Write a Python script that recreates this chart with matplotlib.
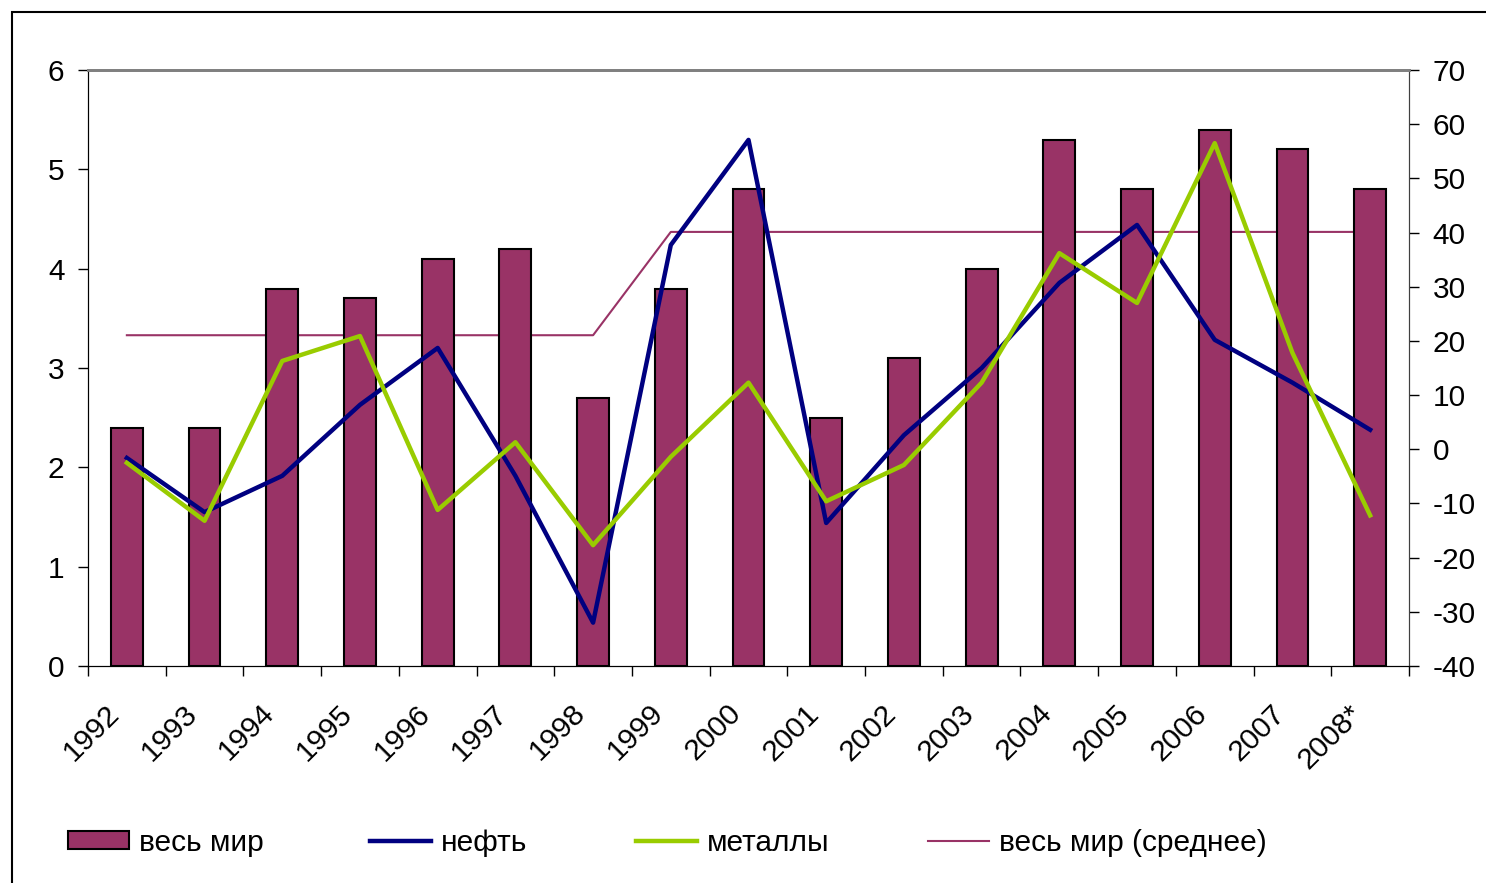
import matplotlib
matplotlib.use("Agg")
import matplotlib.pyplot as plt
import numpy as np
from matplotlib.patches import Rectangle
from matplotlib.transforms import ScaledTranslation

plt.rcParams['font.family'] = ['Liberation Sans', 'DejaVu Sans']
plt.rcParams['axes.unicode_minus'] = False

years = ["1992", "1993", "1994", "1995", "1996", "1997", "1998", "1999", "2000",
         "2001", "2002", "2003", "2004", "2005", "2006", "2007", "2008*"]
world = [2.4, 2.4, 3.8, 3.7, 4.1, 4.2, 2.7, 3.8, 4.8, 2.5, 3.1, 4.0, 5.3, 4.8, 5.4, 5.2, 4.8]
oil = [-1.6, -11.6, -4.9, 8.2, 18.7, -4.9, -32.0, 37.7, 57.1, -13.6, 2.6, 15.0, 30.7,
       41.4, 20.2, 12.3, 3.6]
metals = [-2.5, -13.2, 16.3, 20.9, -11.2, 1.3, -17.7, -1.4, 12.3, -9.6, -2.9, 12.3,
          36.2, 27.0, 56.5, 17.8, -12.2]
# averages of "world" for 1992-1998 and 1999-2008
world_avg = [3.33] * 7 + [4.37] * 10

bar_col = "#993366"
oil_col = "#000080"
met_col = "#99CC00"
fs = 21.5

W, H = 1486, 883
fig = plt.figure(figsize=(W / 100, H / 100), dpi=100)
ax = fig.add_axes([88 / W, 1 - 666 / H, (1409 - 88) / W, (666 - 70) / H])
ax2 = ax.twinx()

x = np.arange(len(years))

ax.plot(x, world_avg, color=bar_col, lw=1.5, zorder=1, label="весь мир (среднее)")
ax.bar(x, world, width=0.41, color=bar_col, edgecolor="black", linewidth=1.5, zorder=2,
       label="весь мир")
ax.set_ylim(0, 6)
ax.set_xlim(-0.5, len(years) - 0.5)
ax.set_yticks(range(0, 7))

ax2.plot(x, oil, color=oil_col, lw=3.2, zorder=3, label="нефть")
ax2.plot(x, metals, color=met_col, lw=3.2, zorder=3, label="металлы")
ax2.set_ylim(-40, 70)
ax2.set_yticks(range(-40, 71, 10))

# x ticks: labels at category centres, tick marks at boundaries
ax.set_xticks(x)
ax.set_xticklabels(years, rotation=45, ha="right", va="center", rotation_mode="anchor")
ax.tick_params(axis="x", which="major", length=0, pad=31, labelsize=fs)
for lab in ax.get_xticklabels():
    lab.set_transform(lab.get_transform() + ScaledTranslation(-0.12, 0, fig.dpi_scale_trans))
ax.set_xticks(np.arange(-0.5, len(years)), minor=True)
ax.tick_params(axis="x", which="minor", length=7, width=1, direction="out")
ax.tick_params(axis="y", length=7, width=1, pad=10, labelsize=fs)
ax2.tick_params(axis="y", length=7, width=1, pad=10, labelsize=fs)

for a in (ax, ax2):
    a.spines["top"].set_color("#808080")
    a.spines["top"].set_linewidth(2)
    a.spines["left"].set_color("black")
    a.spines["bottom"].set_color("black")
    a.spines["right"].set_color("#404040")
ax.set_zorder(ax2.get_zorder() - 1)
ax.patch.set_visible(True)
ax2.patch.set_visible(False)

# outer chart-area frame (runs off the picture on the right and bottom)
fig.add_artist(Rectangle((12 / W, -0.5), 2, 1.5 - 12 / H, transform=fig.transFigure,
                         fill=False, edgecolor="black", linewidth=1.5))

h_bar, l_bar = ax.get_legend_handles_labels()
h_line, l_line = ax2.get_legend_handles_labels()
items = [(h_bar[1], l_bar[1], 68), (h_line[0], l_line[0], 370),
         (h_line[1], l_line[1], 636), (h_bar[0], l_bar[0], 928)]
for h, l, px in items:
    fig.legend([h], [l], loc="center left", bbox_to_anchor=(px / W, 1 - 843 / H),
               frameon=False, fontsize=fs, handlelength=2.05, handleheight=0.55,
               handletextpad=0.33, borderpad=0, borderaxespad=0)

fig.savefig("out.png", dpi=100, facecolor="white")
